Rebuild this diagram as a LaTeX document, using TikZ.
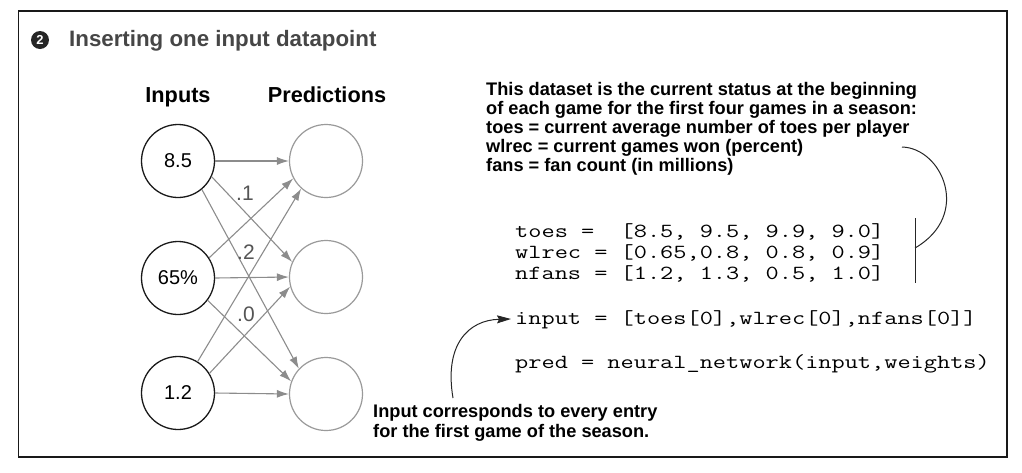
\documentclass[tikz,border=0pt]{standalone}
\usepackage{fontspec}
\setmainfont{Liberation Sans}
\newfontfamily\codefont[FakeStretch=1.28]{Latin Modern Mono}
\usetikzlibrary{arrows.meta}
\definecolor{titlegray}{HTML}{464646}
\definecolor{arrowgray}{HTML}{8C8C8C}
\definecolor{circgray}{HTML}{9A9A9A}
\definecolor{wgray}{HTML}{555555}
\begin{document}
\begin{tikzpicture}[x=1pt,y=-1pt,
  incirc/.style={circle,draw=black!90,line width=1.3pt,minimum size=73pt,inner sep=0pt,font=\fontsize{20}{23}\selectfont},
  outcirc/.style={circle,draw=circgray,line width=1.2pt,minimum size=73pt,inner sep=0pt},
  conn/.style={draw=arrowgray,line width=1.1pt,-{Latex[length=12pt,width=8pt]}},
  wlabel/.style={text=wgray,font=\fontsize{21}{24}\selectfont,inner sep=0pt},
  header/.style={font=\bfseries\fontsize{21.7}{24}\selectfont,inner sep=0pt,anchor=base},
  note/.style={font=\bfseries\fontsize{18.2}{20}\selectfont,inner sep=0pt,anchor=base west},
  code/.style={font=\codefont\fontsize{20}{21}\selectfont,inner sep=0pt,anchor=base west},
  callout/.style={draw=black!85,line width=1pt}
]
\useasboundingbox (0,0) rectangle (1022,472);
\draw[line width=1.3pt,black!90] (18.5,11) rectangle (1007,457);

% title
\node[circle,fill=black!85,minimum size=18pt,inner sep=0pt,text=white,font=\bfseries\fontsize{13}{15}\selectfont] (bullet) at (40,40) {2};
\node[anchor=base west,inner sep=0pt,text=titlegray,font=\bfseries\fontsize{22.3}{26}\selectfont] (title) at (69,46) {Inserting one input datapoint};

% headers
\node[header] (hin) at (178,102) {Inputs};
\node[header] (hpred) at (327,102) {Predictions};

% circles
\node[incirc] (i1) at (178,161) {8.5};
\node[incirc] (i2) at (178,278) {65\%};
\node[incirc] (i3) at (178,393) {1.2};
\node[outcirc] (o1) at (326,161) {};
\node[outcirc] (o2) at (326,277) {};
\node[outcirc] (o3) at (326,394) {};

% connectors
\draw[conn] (i1.east) -- (o1.west);
\draw[conn] (i1.-25) -- (o2.156);
\draw[conn] (i1.-50) -- (o3.137);
\draw[conn] (i2.33) -- (o1.208);
\draw[conn] (i2.east) -- (o2.west);
\draw[conn] (i2.-37) -- (o3.160);
\draw[conn] (i3.58) -- (o1.228);
\draw[conn] (i3.32) -- (o2.195);
\draw[conn] (i3.east) -- (o3.west);

% weights
\node[wlabel] (w1) at (245,193) {.1};
\node[wlabel] (w2) at (246,252) {.2};
\node[wlabel] (w3) at (246,314) {.0};

% description
\node[note] (d1) at (486,95) {This dataset is the current status at the beginning};
\node[note] (d2) at (486,114) {of each game for the first four games in a season:};
\node[note] (d3) at (486,133) {toes = current average number of toes per player};
\node[note] (d4) at (486,152) {wlrec = current games won (percent)};
\node[note] (d5) at (486,171) {fans = fan count (in millions)};

% code
\node[code,align=left] (c1) at (515,279) {toes =\ \ [8.5, 9.5, 9.9, 9.0]\\wlrec = [0.65,0.8, 0.8, 0.9]\\nfans = [1.2, 1.3, 0.5, 1.0]};
\node[code] (c4) at (515,324) {input = [toes[0],wlrec[0],nfans[0]]};
\node[code] (c5) at (515,368) {pred = neural\_network(input,weights)};

% bracket and callout
\coordinate (bt) at (915,218);
\coordinate (bb) at (915,283);
\coordinate (bm) at (915,248);
\coordinate (cs) at (902,147);
\draw[callout] (bt) -- (bb);
\draw[callout] (cs) .. controls (942,148) and (972,215) .. (bm);

% bottom note
\node[note] (n1) at (373,417) {Input corresponds to every entry};
\node[note] (n2) at (373,437) {for the first game of the season.};
\coordinate (as) at (453,398);
\coordinate (at) at (511,319);
\draw[callout,-{Stealth[length=14pt,width=8pt,inset=2pt]}] (as) .. controls (444,345) and (468,320) .. (at);
\end{tikzpicture}
\end{document}
